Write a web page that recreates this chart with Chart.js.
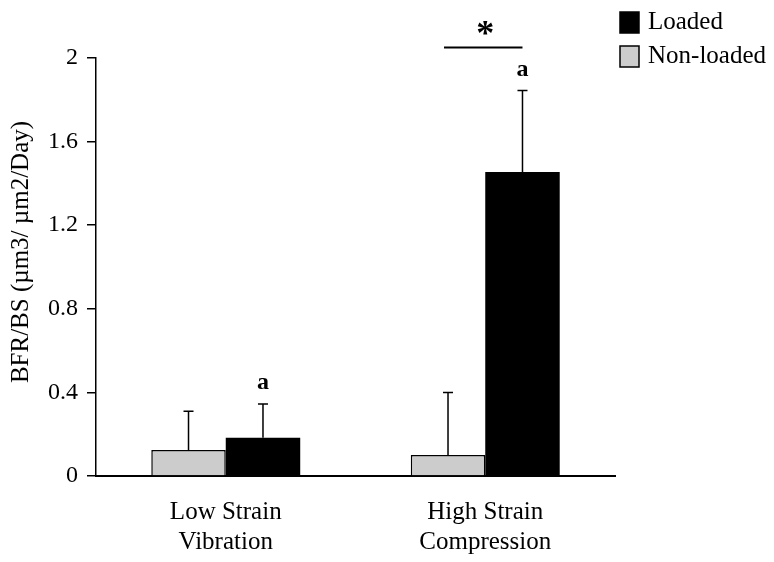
<!DOCTYPE html>
<html>
<head>
<meta charset="utf-8">
<script src="https://cdn.jsdelivr.net/npm/chart.js@4.4.1/dist/chart.umd.min.js"></script>
<style>
	html, body { margin: 0; padding: 0; background: #fff; }
	#wrap { width: 774px; height: 562px; }
</style>
</head>
<body>
<div id="wrap"><canvas id="canvas1" width="774" height="562"></canvas></div>
<script>
var categories = [["Low Strain", "Vibration"], ["High Strain", "Compression"]];
var nonLoaded = [0.125, 0.10];
var nonLoadedSD = [0.185, 0.30];
var loaded = [0.183, 1.455];
var loadedSD = [0.162, 0.39];
var yTicks = [0, 0.4, 0.8, 1.2, 1.6, 2];
var yTitle = "BFR/BS (\u00b5m3/ \u00b5m2/Day)";
var markA = ["a", "a"];	// letter above each Loaded bar
var sigLevel = 2.05;	// bracket between the High Strain bars

var serif = "'Liberation Serif', 'Times New Roman', serif";

// error bars, letters, star bracket, y title and legend
var extras = {
	id: 'extras',
	afterDatasetsDraw: function(chart) {
		var ctx = chart.ctx;
		var y = chart.scales.y;
		var sds = [nonLoadedSD, loadedSD];
		ctx.save();
		ctx.strokeStyle = '#000';
		ctx.lineWidth = 1.5;
		sds.forEach(function(sd, di) {
			var meta = chart.getDatasetMeta(di);
			meta.data.forEach(function(bar, i) {
				var top = y.getPixelForValue(chart.data.datasets[di].data[i] + sd[i]);
				ctx.beginPath();
				ctx.moveTo(bar.x, bar.y);
				ctx.lineTo(bar.x, top);
				ctx.moveTo(bar.x - 5, top);
				ctx.lineTo(bar.x + 5, top);
				ctx.stroke();
			});
		});
		// letters
		ctx.fillStyle = '#000';
		ctx.font = 'bold 24px ' + serif;
		ctx.textAlign = 'center';
		ctx.textBaseline = 'middle';
		var lmeta = chart.getDatasetMeta(1);
		lmeta.data.forEach(function(bar, i) {
			var top = y.getPixelForValue(loaded[i] + loadedSD[i]);
			ctx.fillText(markA[i], bar.x, top - 21);
		});
		// star bracket
		var nb = chart.getDatasetMeta(0).data[1];
		var lb = chart.getDatasetMeta(1).data[1];
		var ly = y.getPixelForValue(sigLevel);
		ctx.lineWidth = 2;
		ctx.beginPath();
		ctx.moveTo(nb.x - 4, ly);
		ctx.lineTo(lb.x, ly);
		ctx.stroke();
		ctx.font = 'bold 36px ' + serif;
		ctx.fillText('*', (nb.x + lb.x) / 2, ly - 12);
		// y title
		ctx.font = '25px ' + serif;
		ctx.translate(21, 252);
		ctx.rotate(-Math.PI / 2);
		ctx.fillText(yTitle, 0, 0);
		ctx.restore();
		// legend
		ctx.save();
		ctx.font = '25px ' + serif;
		ctx.textBaseline = 'middle';
		ctx.textAlign = 'left';
		var items = [chart.data.datasets[1], chart.data.datasets[0]];
		items.forEach(function(ds, k) {
			var ty = 12 + k * 34;
			ctx.fillStyle = ds.backgroundColor;
			ctx.fillRect(620, ty, 19, 21);
			ctx.strokeStyle = '#000';
			ctx.lineWidth = 1.5;
			ctx.strokeRect(620, ty, 19, 21);
			ctx.fillStyle = '#000';
			ctx.fillText(ds.label, 648, ty + 10);
		});
		ctx.restore();
	}
};

var ctx = document.getElementById('canvas1');
new Chart(ctx, {
	type: 'bar',
	data: {
		labels: categories,
		datasets: [
			{
				label: "Non-loaded",
				data: nonLoaded,
				backgroundColor: "#cccccc",
				borderColor: "#000",
				borderWidth: 1.5,
				borderSkipped: 'bottom'
			},
			{
				label: "Loaded",
				data: loaded,
				backgroundColor: "#000000",
				borderColor: "#000",
				borderWidth: 0
			}
		]
	},
	options: {
		responsive: false,
		maintainAspectRatio: false,
		animation: false,
		layout: { padding: { left: 0, right: 159, top: 58, bottom: 0 } },
		plugins: {
			legend: { display: false },
			tooltip: { enabled: false }
		},
		datasets: { bar: { categoryPercentage: 0.574, barPercentage: 1 } },
		scales: {
			x: {
				grid: { display: true, drawOnChartArea: false, drawTicks: false },
				border: { color: '#000', width: 2 },
				ticks: {
					color: '#000',
					font: { family: serif, size: 25, lineHeight: 1.2 },
					padding: 21,
					maxRotation: 0
				},
				afterFit: function(s) { s.height = 86; }
			},
			y: {
				min: 0,
				max: 2,
				afterBuildTicks: function(s) {
					s.ticks = yTicks.map(function(v) { return { value: v }; });
				},
				grid: { display: true, drawOnChartArea: false, drawTicks: true, tickLength: 9, color: '#000', lineWidth: 1.5 },
				border: { color: '#000', width: 1.5 },
				ticks: {
					color: '#000',
					font: { family: serif, size: 24 },
					padding: 9,
					callback: function(v) { return String(v); }
				},
				afterFit: function(s) { s.width = 96; }
			}
		}
	},
	plugins: [extras]
});
</script>
</body>
</html>
